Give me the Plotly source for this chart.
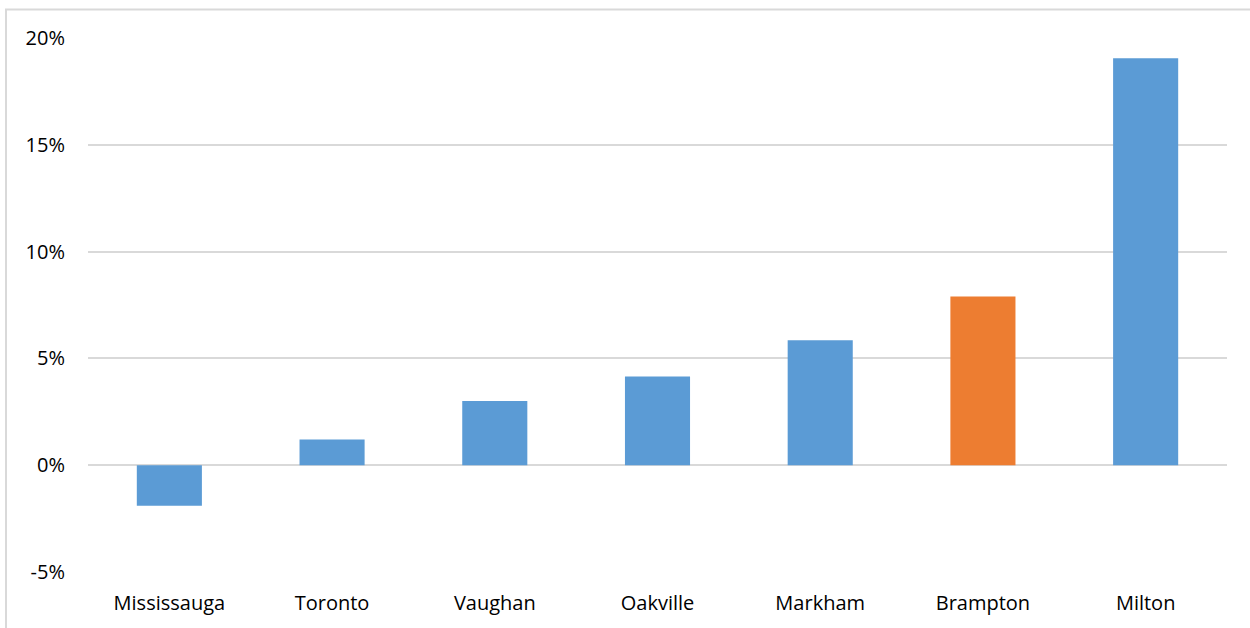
import plotly.graph_objects as go

cities = ["Mississauga", "Toronto", "Vaughan", "Oakville", "Markham", "Brampton", "Milton"]
values = [-1.9, 1.2, 3.0, 4.15, 5.85, 7.9, 19.05]
colors = ["#5b9bd5", "#5b9bd5", "#5b9bd5", "#5b9bd5", "#5b9bd5", "#ed7d31", "#5b9bd5"]
tick_vals = [-5, 0, 5, 10, 15, 20]
tick_text = ["-5%", "0%", "5%", "10%", "15%", "20%"]

W, H = 1250, 628
ml, mr, mt, mb = 88, 23, 38, 56
pw, ph = W - ml - mr, H - mt - mb

fig = go.Figure(go.Bar(
    x=cities, y=values, marker=dict(color=colors, line=dict(width=0)), width=0.4,
))

fig.update_layout(
    width=W, height=H,
    margin=dict(l=ml, r=mr, t=mt, b=mb),
    paper_bgcolor="white", plot_bgcolor="white",
    font=dict(family="Open Sans, Liberation Sans, sans-serif", size=20, color="#000000"),
    showlegend=False,
    xaxis=dict(showgrid=False, showline=False, ticks="", ticklabelstandoff=17,
               tickfont=dict(size=20)),
    yaxis=dict(range=[-5, 20], tickvals=tick_vals, ticktext=tick_text,
               showgrid=True, gridcolor="#d9d9d9", gridwidth=1.5,
               zeroline=True, zerolinecolor="#d9d9d9", zerolinewidth=1.5,
               showline=False, ticks="", ticklabelstandoff=22, tickfont=dict(size=20)),
    shapes=[dict(type="rect", xref="paper", yref="paper",
                 x0=(6 - ml) / pw, x1=(W + 20 - ml) / pw,
                 y0=-(mb + 20) / ph, y1=(H - mb - 9.5) / ph,
                 line=dict(color="#d9d9d9", width=2), layer="below")],
)

fig.write_html("out.html")
